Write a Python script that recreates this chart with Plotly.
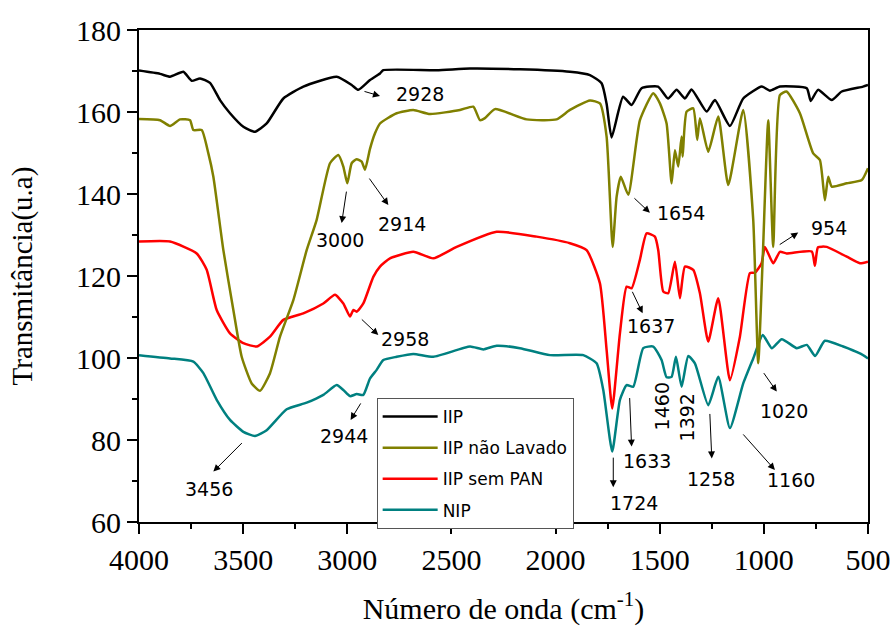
import plotly.graph_objects as go

# ---------------- data ----------------
iip_x = [4000, 3899, 3851, 3787, 3747, 3707, 3659, 3611, 3563, 3499, 3443, 3387, 3307, 3211,
         3051, 2979, 2947, 2891, 2843, 2827, 2571, 2411, 2171, 1931, 1835, 1779, 1755, 1731,
         1676, 1635, 1587, 1508, 1460, 1419, 1379, 1347, 1275, 1235, 1163, 1099, 1010, 971,
         923, 794, 775, 740, 674, 626, 524, 500]
iip_y = [170.1, 169.3, 168.6, 169.8, 167.6, 168.2, 167.1, 162.9, 159.7, 156.4, 155.2, 157.2, 163.3, 166.2,
         168.6, 166.6, 165.4, 167.8, 169.4, 170.2, 170.2, 170.6, 170.4, 169.8, 169.0, 167.0, 162.0, 153.8,
         163.7, 161.7, 165.8, 166.2, 163.3, 165.4, 163.3, 165.5, 160.1, 162.9, 156.6, 163.3, 166.2, 165.2,
         166.2, 165.8, 162.7, 165.4, 162.9, 165.0, 166.2, 166.6]

nl_x = [4000, 3899, 3851, 3803, 3755, 3739, 3699, 3667, 3643, 3595, 3547, 3507, 3459, 3419, 3371,
        3323, 3259, 3195, 3147, 3083, 3043, 3019, 3000, 2979, 2955, 2931, 2915, 2891, 2867, 2843,
        2763, 2683, 2603, 2459, 2395, 2363, 2339, 2291, 2139, 1995, 1931, 1835, 1787, 1755, 1726,
        1707, 1687, 1651, 1595, 1531, 1499, 1467, 1443, 1427, 1411, 1395, 1390, 1371, 1339, 1320,
        1307, 1267, 1219, 1171, 1099, 1051, 1027, 1005, 979, 955, 923, 891, 827, 763, 731, 707,
        691, 674, 602, 530, 500]
nl_y = [158.3, 158.0, 156.6, 158.2, 158.0, 155.6, 155.6, 149.9, 144.2, 126.3, 111.7, 100.3, 93.8, 92.0, 96.3,
        105.2, 114.1, 126.3, 133.7, 147.5, 149.5, 146.7, 142.6, 147.5, 148.5, 147.9, 145.9, 151.0, 154.8, 157.2,
        159.7, 160.5, 159.5, 160.5, 161.3, 158.0, 158.5, 160.7, 158.2, 158.2, 160.5, 162.8, 162.1, 154.0, 127.1,
        139.3, 144.2, 139.8, 158.0, 164.6, 162.1, 157.2, 142.6, 150.7, 146.7, 154.0, 149.1, 160.1, 160.9, 153.2,
        158.5, 150.3, 158.9, 142.2, 160.5, 133.7, 98.7, 125.0, 158.0, 127.1, 164.1, 165.0, 159.7, 149.9, 148.3, 138.5,
        144.2, 141.8, 142.6, 143.4, 146.3]

pan_x = [4000, 3851, 3723, 3675, 3627, 3563, 3499, 3435, 3371, 3307, 3211, 3115, 3059, 3019, 2987,
         2971, 2955, 2923, 2875, 2843, 2795, 2683, 2587, 2475, 2283, 2091, 1931, 1851, 1787, 1755,
         1728, 1691, 1659, 1635, 1595, 1563, 1523, 1507, 1483, 1459, 1427, 1403, 1379, 1339, 1307,
         1267, 1219, 1163, 1115, 1067, 1043, 1011, 995, 955, 923, 891, 770, 755, 740, 698, 602, 539, 500]
pan_y = [128.4, 128.4, 125.5, 121.5, 111.7, 106.0, 103.6, 102.8, 105.2, 109.3, 110.9, 113.3, 115.4, 113.3, 110.1,
         111.7, 111.3, 113.3, 119.8, 122.3, 124.3, 125.9, 124.3, 127.1, 130.8, 129.6, 128.0, 126.3, 118.2, 102.0,
         87.7, 106.0, 117.4, 117.0, 124.0, 130.4, 129.6, 126.3, 116.2, 115.8, 123.5, 114.6, 122.3, 121.5, 115.8,
         104.0, 114.6, 94.6, 105.2, 120.7, 120.8, 123.1, 127.1, 123.1, 125.9, 125.5, 126.0, 122.5, 127.0, 127.1, 124.7, 123.1, 123.5]

nip_x = [4000, 3851, 3739, 3691, 3627, 3563, 3499, 3443, 3387, 3291, 3195, 3115, 3051, 3019, 2987,
         2955, 2923, 2891, 2859, 2827, 2763, 2683, 2587, 2411, 2347, 2283, 2171, 2027, 1867, 1803,
         1771, 1728, 1691, 1659, 1627, 1579, 1531, 1491, 1467, 1443, 1422, 1395, 1363, 1331, 1267,
         1219, 1163, 1099, 1051, 1005, 962, 914, 842, 794, 754, 707, 619, 539, 500]
nip_y = [100.7, 99.9, 99.1, 96.3, 89.8, 84.9, 82.0, 81.0, 82.4, 87.5, 89.1, 91.0, 93.4, 92.2, 90.7,
         91.2, 91.0, 95.0, 97.1, 99.5, 100.3, 101.0, 100.3, 102.8, 102.1, 103.0, 102.4, 100.7, 100.7, 98.7,
         92.2, 77.2, 89.8, 93.4, 93.0, 102.4, 102.8, 99.5, 95.3, 95.4, 100.3, 93.0, 100.5, 98.7, 88.5,
         95.4, 82.9, 93.8, 99.9, 105.6, 102.4, 104.6, 102.4, 103.2, 100.5, 104.2, 102.8, 101.1, 99.9]

series_names = ["IIP", "IIP não Lavado", "IIP sem PAN", "NIP"]
x_ticks = [4000, 3500, 3000, 2500, 2000, 1500, 1000, 500]
y_ticks = [60, 80, 100, 120, 140, 160, 180]

# peak labels (wavenumber text)
peak_labels = ["2928", "3000", "2914", "1654", "954", "1637", "2958", "2944", "3456",
               "1724", "1633", "1460", "1392", "1258", "1160", "1020"]

# ---------------- figure ----------------
fig = go.Figure()
colors = {"IIP": "#000000", "IIP não Lavado": "#808000", "IIP sem PAN": "#FF0000", "NIP": "#008080"}
data = {"IIP": (iip_x, iip_y), "IIP não Lavado": (nl_x, nl_y),
        "IIP sem PAN": (pan_x, pan_y), "NIP": (nip_x, nip_y)}
draw_order = ["NIP", "IIP sem PAN", "IIP", "IIP não Lavado"]
for name in draw_order:
    xs, ys = data[name]
    fig.add_trace(go.Scatter(
        x=xs, y=ys, mode="lines", name=name,
        line=dict(color=colors[name], width=2.5, shape="spline", smoothing=0.5),
        legendrank=series_names.index(name) + 1,
        legendgroup=name,
    ))

serif = "Liberation Serif, Times New Roman, serif"
sans = "DejaVu Sans, sans-serif"

# label placements: (x, y, angle)
label_pos = {
    "2928": (2651, 164.4, 0), "3000": (3035, 128.8, 0), "2914": (2737, 132.7, 0),
    "1654": (1398, 135.4, 0), "954": (687, 131.7, 0), "1637": (1542, 107.8, 0),
    "2958": (2723, 104.6, 0), "2944": (3016, 81.0, 0), "3456": (3664, 68.0, 0),
    "1724": (1624, 64.6, 0), "1633": (1561, 74.9, 0), "1460": (1487, 88.3, -90),
    "1392": (1371, 85.4, -90), "1258": (1254, 70.5, 0), "1160": (870, 70.2, 0),
    "1020": (903, 87.1, 0),
}
# arrows: head (x, y) in data, tail offset in px
arrow_pos = [
    (2843, 163.9, -17, -5), (3027, 132.9, 5, -33), (2803, 137.3, -20, -28),
    (1547, 135.4, -17, -16), (835, 130.6, -20, 13), (1582, 110.9, -11, -23),
    (2851, 105.6, -18, -17), (2984, 84.9, 11, -18), (3643, 72.3, 30, -30),
    (1723, 68.5, 0, -31), (1635, 78.4, -2, -50), (1250, 75.5, -2, -46),
    (947, 72.7, -33, -37), (938, 91.8, -14, -20),
]
annotations = []
for t in peak_labels:
    lx, ly, ang = label_pos[t]
    annotations.append(dict(x=lx, y=ly, xref="x", yref="y", text=t, showarrow=False,
                            textangle=ang, font=dict(family=sans, size=19, color="black")))
for hx, hy, ax, ay in arrow_pos:
    annotations.append(dict(x=hx, y=hy, xref="x", yref="y", text="", showarrow=True,
                            ax=ax, ay=ay, arrowhead=2, arrowsize=1.4, arrowwidth=1,
                            arrowcolor="black", standoff=0))

fig.update_layout(
    width=893, height=626,
    margin=dict(l=139, r=25, t=30, b=104, autoexpand=False),
    paper_bgcolor="white", plot_bgcolor="white",
    showlegend=True,
    legend=dict(x=0.326, y=0.252, xanchor="left", yanchor="top",
                bgcolor="white", bordercolor="#555555", borderwidth=1,
                font=dict(family=sans, size=17, color="black"),
                tracegroupgap=6, itemwidth=55),
    annotations=annotations,
    xaxis=dict(range=[4000, 500], tickvals=x_ticks, ticktext=[str(v) for v in x_ticks],
               automargin=False,
               showgrid=False, zeroline=False, showline=True, linecolor="black", linewidth=2,
               ticks="outside", ticklen=10, tickwidth=2, tickcolor="black",
               minor=dict(ticks="outside", ticklen=5, tickwidth=2, dtick=250, tickcolor="black", showgrid=False),
               tickfont=dict(family=serif, size=30, color="black"),
               title=dict(text="Número de onda (cm<sup>-1</sup>)", standoff=27,
                          font=dict(family=serif, size=30, color="black")),
               mirror=True),
    yaxis=dict(range=[60, 180], tickvals=y_ticks, ticktext=[str(v) for v in y_ticks],
               automargin=False,
               showgrid=False, zeroline=False, showline=True, linecolor="black", linewidth=2,
               ticks="outside", ticklen=10, tickwidth=2, tickcolor="black",
               minor=dict(ticks="outside", ticklen=5, tickwidth=2, dtick=10, tickcolor="black", showgrid=False),
               tickfont=dict(family=serif, size=30, color="black"),
               title=dict(text="Transmitância(u.a)", standoff=35,
                          font=dict(family=serif, size=29, color="black")),
               mirror=True),
    xaxis2=dict(range=[4000, 500], overlaying="x", side="top", anchor="y", automargin=False,
                showgrid=False, zeroline=False, showline=False, showticklabels=False,
                ticks="inside", ticklen=4, tickwidth=1.5, tickcolor="black", dtick=250, tick0=500),
    yaxis2=dict(range=[60, 180], overlaying="y", side="right", anchor="x", automargin=False,
                showgrid=False, zeroline=False, showline=False, showticklabels=False,
                ticks="inside", ticklen=4, tickwidth=1.5, tickcolor="black", dtick=10, tick0=60),
)

fig.write_html("out.html")
